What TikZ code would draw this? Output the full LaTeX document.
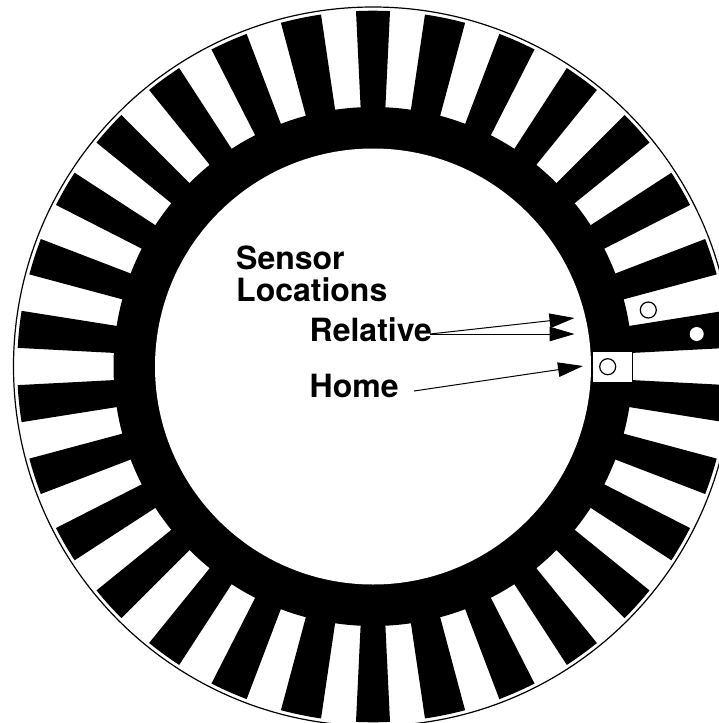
\documentclass[tikz,border=0pt]{standalone}
\usepackage{fontspec}
\setmainfont{TeX Gyre Heros}
\usetikzlibrary{arrows.meta}
\tikzset{
  lab/.style={font=\bfseries\fontsize{32}{33}\selectfont,anchor=base west,inner sep=0pt},
  pointer/.style={line width=1pt,-{Triangle[length=25pt,width=14.5pt]},shorten >=0pt},
  sensor/.style={draw=black,fill=white,line width=1.2pt},
  hole/.style={fill=white}
}
\newcommand{\blackbar}[2]{\fill[black] (#1:258pt) -- (#1:355.8pt) arc[start angle=#1,end angle=#2,radius=355.8pt] -- (#2:258pt) -- cycle;}
\begin{document}
\begin{tikzpicture}[x=1pt,y=1pt]
\useasboundingbox (0,0) rectangle (719,-723);
\fill[white] (0,0) rectangle (719,-723);
\begin{scope}
\clip (0,0) rectangle (719,-723);
\begin{scope}[shift={(373,-366.5)}]
  \draw[black,line width=1.2pt] (0,0) circle[radius=359.5pt];
  \fill[black] (0,0) circle[radius=259.5pt];
  \blackbar{87.26}{92.74}
  \blackbar{267.26}{272.74}
  \foreach \p/\q in {8.4/15,20.8/27,33/39,45/51,57/63,69/75,81/87}{
    \pgfmathsetmacro{\aa}{90+\p}\pgfmathsetmacro{\ab}{90+\q}
    \pgfmathsetmacro{\ba}{90-\q}\pgfmathsetmacro{\bb}{90-\p}
    \pgfmathsetmacro{\ca}{270+\p}\pgfmathsetmacro{\cb}{270+\q}
    \pgfmathsetmacro{\da}{270-\q}\pgfmathsetmacro{\db}{270-\p}
    \blackbar{\aa}{\ab}
    \blackbar{\ba}{\bb}
    \blackbar{\ca}{\cb}
    \blackbar{\da}{\db}
  }
  \fill[white] (0,0) circle[radius=218pt];
\end{scope}
\node[sensor,minimum width=40pt,minimum height=31pt,inner sep=0pt,line width=1pt] (box) at (612,-366.5) {};
\node[sensor,circle,minimum size=16pt,inner sep=0pt] (homeS) at (607.7,-366.7) {};
\node[sensor,circle,minimum size=16pt,inner sep=0pt] (relS) at (648.3,-310) {};
\node[hole,circle,minimum size=14pt,inner sep=0pt] (relH) at (696.7,-334) {};
\end{scope}
\node[lab] (sensorT) at (236,-269.5) {Sensor};
\node[lab] (locT) at (236,-301.5) {Locations};
\node[lab] (relT) at (309.5,-341.5) {Relative};
\node[lab] (homeT) at (309.5,-397.5) {Home};
\coordinate (relStart) at (430,-334);
\coordinate (relTipA) at (574.5,-318);
\coordinate (relTipB) at (574.5,-334);
\coordinate (homeStart) at (414,-391);
\coordinate (homeTip) at (583,-366);
\draw[pointer] (relStart) -- (relTipA);
\draw[pointer] (relStart) -- (relTipB);
\draw[pointer] (homeStart) -- (homeTip);
\end{tikzpicture}
\end{document}
